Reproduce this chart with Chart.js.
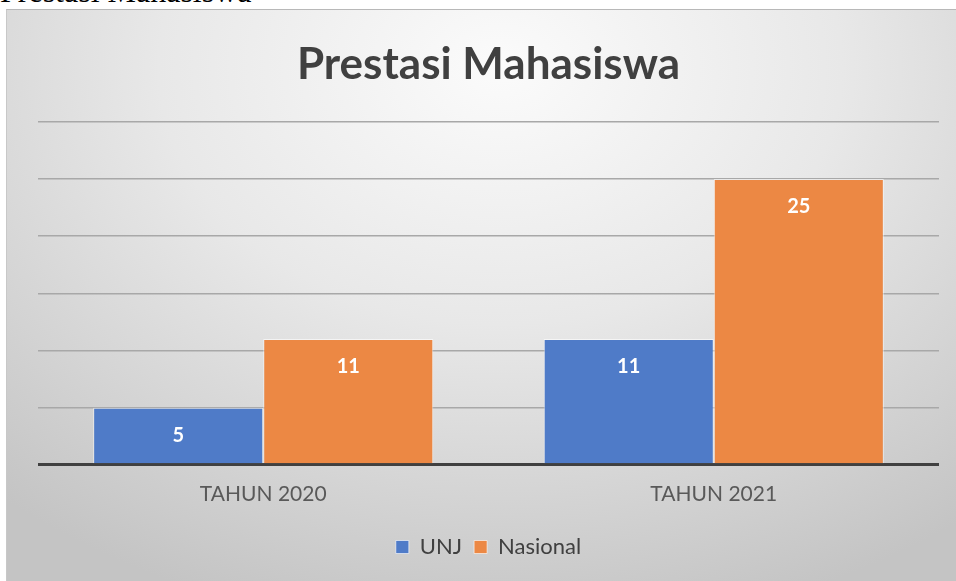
<!DOCTYPE html>
<html>
<head>
<meta charset="utf-8">
<script src="https://cdn.jsdelivr.net/npm/chart.js@4.4.1/dist/chart.umd.min.js"></script>
<style>
    html, body { margin: 0; padding: 0; background: #fff; overflow: hidden; }
    body { width: 956px; height: 581px; position: relative; }
    .caption {
        position: absolute; left: 0; top: -25px;
        font-family: "Liberation Serif", "Times New Roman", serif;
        font-size: 32px; color: #000; line-height: 32px; white-space: nowrap;
    }
    .box {
        position: absolute; left: 6px; top: 9px; width: 950px; height: 572px;
        border-top: 1px solid #b8b8b8; border-left: 1px solid #c8c8c8;
        box-sizing: border-box;
        background: radial-gradient(ellipse 80% 100% at 52% 10%, #fbfbfb 0%, #e8e8e8 45%, #c4c4c4 100%);
    }
    canvas { position: absolute; left: 0; top: 0; }
</style>
</head>
<body>
<div class="caption">Prestasi Mahasiswa</div>
<div class="box"><canvas id="chart" width="950" height="572"></canvas></div>
<script>
const categories = ['TAHUN 2020', 'TAHUN 2021'];
const seriesNames = ['UNJ', 'Nasional'];
const unjValues = [5, 11];
const nasionalValues = [11, 25];
const yTicks = [0, 5, 10, 15, 20, 25, 30];

const fontFamily = 'Lato, "Open Sans", sans-serif';

// white bold value labels inside the top of each bar
const barLabels = {
    id: 'barLabels',
    afterDatasetsDraw(chart) {
        const ctx = chart.ctx;
        ctx.save();
        ctx.fillStyle = '#ffffff';
        ctx.font = 'bold 20px ' + fontFamily;
        ctx.textAlign = 'center';
        ctx.textBaseline = 'middle';
        chart.data.datasets.forEach((ds, i) => {
            const meta = chart.getDatasetMeta(i);
            meta.data.forEach((bar, j) => {
                ctx.fillText(String(ds.data[j]), bar.x, bar.y + 28);
            });
        });
        ctx.restore();
    }
};

const ctx = document.getElementById('chart').getContext('2d');
new Chart(ctx, {
    type: 'bar',
    data: {
        labels: categories,
        datasets: [{
            label: seriesNames[0],
            data: unjValues,
            backgroundColor: '#4f7bc8',
            borderColor: 'rgba(255,255,255,0.6)',
            borderWidth: 1,
            categoryPercentage: 0.755,
            barPercentage: 1.0
        }, {
            label: seriesNames[1],
            data: nasionalValues,
            backgroundColor: '#ec8844',
            borderColor: 'rgba(255,255,255,0.6)',
            borderWidth: 1,
            categoryPercentage: 0.755,
            barPercentage: 1.0
        }]
    },
    options: {
        responsive: false,
        animation: false,
        layout: { padding: { left: 31, right: 18, top: 0, bottom: 14 } },
        scales: {
            x: {
                grid: { display: false, drawTicks: false },
                border: { display: false },
                ticks: {
                    color: '#595959',
                    padding: 17,
                    font: { family: fontFamily, size: 21 }
                }
            },
            y: {
                min: 0,
                max: 30,
                afterBuildTicks: axis => { axis.ticks = yTicks.map(v => ({ value: v })); },
                afterFit: axis => { axis.width = 0; },
                ticks: { display: false },
                border: { display: false },
                grid: {
                    drawTicks: false,
                    color: c => c.tick.value === 0 ? '#404040' : '#a8a8a8',
                    lineWidth: c => c.tick.value === 0 ? 3 : 1.5
                }
            }
        },
        plugins: {
            title: {
                display: true,
                text: 'Prestasi Mahasiswa',
                color: '#404040',
                font: { family: fontFamily, size: 44, weight: 'bold' },
                padding: { top: 28, bottom: 31 }
            },
            legend: {
                position: 'bottom',
                labels: {
                    color: '#404040',
                    boxWidth: 13,
                    boxHeight: 13,
                    padding: 12,
                    font: { family: fontFamily, size: 22 }
                }
            },
            tooltip: { enabled: false }
        }
    },
    plugins: [barLabels]
});
</script>
</body>
</html>
